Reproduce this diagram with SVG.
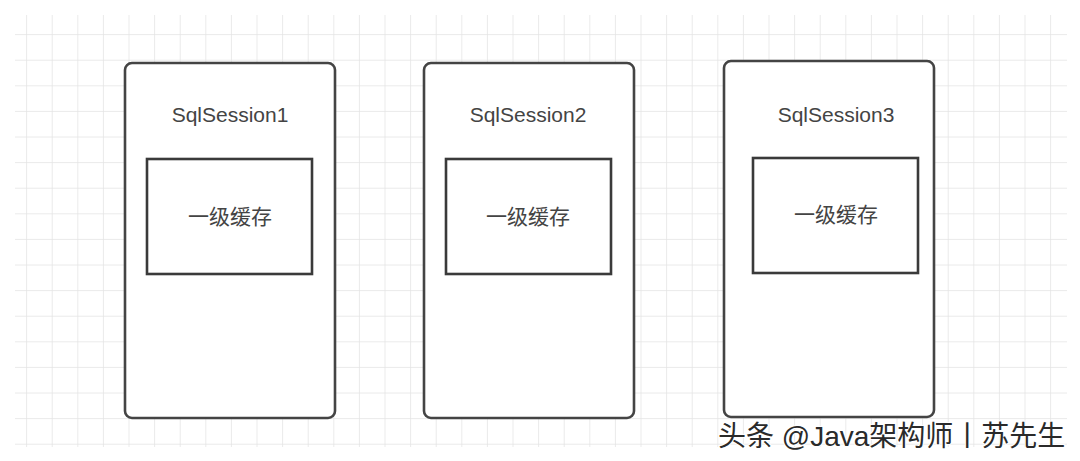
<svg xmlns="http://www.w3.org/2000/svg" width="1080" height="461" viewBox="0 0 1080 461">
<defs>
<pattern id="grid" x="1.5" y="9.5" width="25.6" height="25.6" patternUnits="userSpaceOnUse">
<path d="M25.6 0V25.6M0 25.6H25.6" fill="none" stroke="#e4e4e4" stroke-width="1.5"/>
</pattern>
</defs>
<style>
.outer{fill:#fff;stroke:#444;stroke-width:2.6}
.inner{fill:#fff;stroke:#3a3a3a;stroke-width:2.6}
.title{font-family:"Liberation Sans","Noto Sans",sans-serif;font-size:21px;fill:#444;text-anchor:middle}
.cache{font-family:"Noto Sans CJK SC",sans-serif;font-size:21px;fill:#444;text-anchor:middle}
.wm{font-family:"Liberation Sans","Noto Sans CJK SC",sans-serif;font-size:28px;fill:#2a2a2a;stroke:#fff;stroke-width:2;paint-order:stroke}
</style>
<rect width="1080" height="461" fill="#fff"/>
<rect x="15" y="15" width="1052" height="432" fill="url(#grid)"/>
<g id="connectors"></g>
<g id="session1">
<rect class="outer" x="125" y="63" width="210" height="355" rx="7"/>
<text class="title" x="230" y="122">SqlSession1</text>
<rect class="inner" x="147" y="159" width="165" height="115"/>
<text class="cache" x="230" y="224">一级缓存</text>
</g>
<g id="session2">
<rect class="outer" x="424" y="63" width="210" height="355" rx="7"/>
<text class="title" x="528" y="122">SqlSession2</text>
<rect class="inner" x="446" y="159" width="165" height="115"/>
<text class="cache" x="528" y="224">一级缓存</text>
</g>
<g id="session3">
<rect class="outer" x="724" y="61" width="210" height="356" rx="7"/>
<text class="title" x="836" y="122">SqlSession3</text>
<rect class="inner" x="753" y="158" width="165" height="115"/>
<text class="cache" x="836" y="222">一级缓存</text>
</g>
<text class="wm" x="718" y="446">头条 @Java架构师丨苏先生</text>
</svg>
